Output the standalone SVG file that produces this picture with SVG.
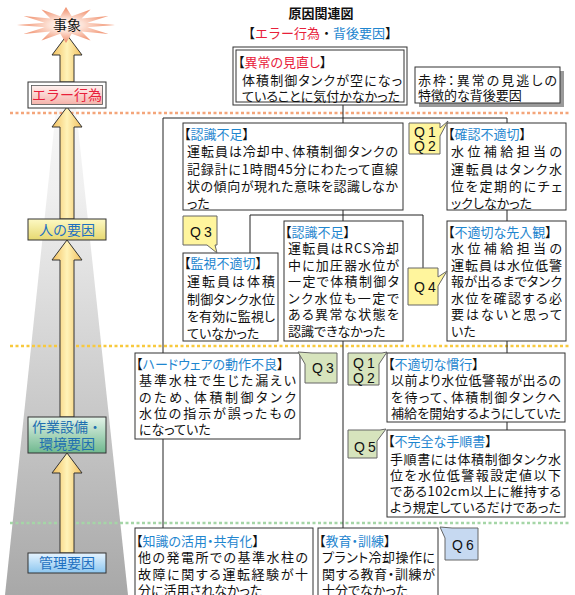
<svg xmlns="http://www.w3.org/2000/svg" width="575" height="595" viewBox="0 0 575 595">
<defs>
<style>
.t{font-family:"Noto Sans CJK JP","Noto Sans CJK SC",sans-serif;font-size:13px;fill:#111;font-feature-settings:"palt"}
.b{fill:#1f86cf}
.r{fill:#e8203a}
.box{fill:#fff;stroke:#333;stroke-width:1}
.con{stroke:#222;stroke-width:1;fill:none}
.qy{fill:#fff59d;stroke:#666;stroke-width:1}
.qg{fill:#d7e4bd;stroke:#666;stroke-width:1}
.qb{fill:#c6d9f1;stroke:#666;stroke-width:1}
.q{font-family:"Liberation Sans",Arial,sans-serif;font-size:14px;letter-spacing:3px;fill:#111}
.arrow{fill:url(#gArrow);stroke:#333;stroke-width:1}
.lab{font-family:"Noto Sans CJK JP",sans-serif;font-size:14px;text-anchor:middle}
</style>
<linearGradient id="gCone" x1="0" y1="0" x2="0" y2="1">
<stop offset="0" stop-color="#ffffff"/><stop offset="0.3" stop-color="#f0f0f0"/><stop offset="1" stop-color="#a8a8a8"/>
</linearGradient>
<linearGradient id="gArrow" x1="0" y1="0" x2="1" y2="0">
<stop offset="0" stop-color="#f2bf5e"/><stop offset="0.5" stop-color="#fff3b8"/><stop offset="1" stop-color="#f2bf5e"/>
</linearGradient>
<radialGradient id="gStar" cx="0.5" cy="0.5" r="0.5">
<stop offset="0" stop-color="#ffffff"/><stop offset="0.35" stop-color="#fde2d6"/><stop offset="1" stop-color="#ef8a66"/>
</radialGradient>
<linearGradient id="gPink" x1="0" y1="0" x2="0" y2="1">
<stop offset="0" stop-color="#fff2f0"/><stop offset="1" stop-color="#f5b3aa"/>
</linearGradient>
<linearGradient id="gYel" x1="0" y1="0" x2="0" y2="1">
<stop offset="0" stop-color="#fdf9c4"/><stop offset="1" stop-color="#e6d870"/>
</linearGradient>
<linearGradient id="gGrn" x1="0" y1="0" x2="0" y2="1">
<stop offset="0" stop-color="#e3f3e8"/><stop offset="1" stop-color="#6fb88e"/>
</linearGradient>
<linearGradient id="gBlu" x1="0" y1="0" x2="0" y2="1">
<stop offset="0" stop-color="#e6f4ff"/><stop offset="1" stop-color="#8cc6ef"/>
</linearGradient>
</defs>
<rect width="575" height="595" fill="#fff"/>

<g id="axis">
<polygon points="66,15 128,595 5,595" fill="url(#gCone)"/>
<line x1="10" y1="113" x2="570" y2="113" stroke="#f4a57a" stroke-width="2.5" stroke-dasharray="3 2.5"/>
<line x1="10" y1="346" x2="570" y2="346" stroke="#f8c93e" stroke-width="2.5" stroke-dasharray="3 2.5"/>
<line x1="10" y1="523" x2="570" y2="523" stroke="#a5d6a7" stroke-width="2.5" stroke-dasharray="3 2.5"/>
<polygon class="arrow" points="67,35 82,55 74,55 74,82 60,82 60,55 52,55"/>
<polygon class="arrow" points="67,107 82,127 74,127 74,219 60,219 60,127 52,127"/>
<polygon class="arrow" points="67,240 82,260 74,260 74,417 60,417 60,260 52,260"/>
<polygon class="arrow" points="67,453 82,473 74,473 74,553 60,553 60,473 52,473"/>
</g>

<g id="n-jishou">
<polygon fill="url(#gStar)" points="115,25 87.3,27.3 108.4,34 81.6,31.4 90.5,40.6 71.7,33.7 66,43 60.3,33.7 41.5,40.6 50.4,31.4 23.6,34 44.7,27.3 17,25 44.7,22.7 23.6,16 50.4,18.6 41.5,9.4 60.3,16.3 66,7 71.7,16.3 90.5,9.4 81.6,18.6 108.4,16 87.3,22.7"/>
<text class="lab" x="67" y="30" fill="#111" font-size="13">事象</text>
</g>

<g id="n-error">
<rect x="28" y="82" width="78" height="26" class="box"/>
<rect x="31.5" y="85.5" width="71" height="19" fill="url(#gPink)" stroke="#555" stroke-width="0.8"/>
<text class="lab" x="67" y="100" fill="#e8203a">エラー行為</text>
</g>

<g id="n-hito">
<rect x="28" y="219" width="78" height="21" fill="url(#gYel)" stroke="#333"/>
<text class="lab" x="67" y="235" fill="#1f70c0">人の要因</text>
</g>

<g id="n-sagyou">
<rect x="28" y="417" width="78" height="36" fill="url(#gGrn)" stroke="#333"/>
<text class="lab" x="67" y="432" fill="#1f70b0">作業設備・</text>
<text class="lab" x="67" y="449" fill="#1f70b0">環境要因</text>
</g>

<g id="n-kanri">
<rect x="28" y="553" width="78" height="20" fill="url(#gBlu)" stroke="#333"/>
<text class="lab" x="67" y="568" fill="#1f70c0">管理要因</text>
</g>

<g id="title">
<text x="321" y="18" text-anchor="middle" font-family="Noto Sans CJK JP, sans-serif" font-size="13" font-weight="bold" fill="#111">原因関連図</text>
<text class="t" x="320" y="38" text-anchor="middle" style="font-feature-settings:normal">【<tspan class="r">エラー行為</tspan>・<tspan class="b">背後要因</tspan>】</text>
</g>

<g id="connectors" class="con">
<path d="M343,105 V123 M163,118 H507 M163,118 V528 M507,118 V123 M343,210 V221 M250,215 H423 M250,215 V253 M423,215 V268 M507,210 V221 M343,341 V528 M507,341 V353 M507,422 V430"/>
</g>

<g id="n-minaoshi">
<rect x="233" y="47" width="174" height="58" class="box"/>
<rect x="236" y="50" width="168" height="52" class="box"/>
<text class="t" x="238" y="67">【<tspan class="r">異常の見直し</tspan>】</text>
<text class="t" x="242" y="85" textLength="160">体積制御タンクが空になっ</text>
<text class="t" x="242" y="100.5" textLength="158">ていることに気付かなかった</text>
</g>

<g id="legend">
<rect x="419" y="71" width="145" height="36" fill="#9a9a9a"/>
<rect x="415" y="67" width="145" height="36" class="box"/>
<text class="t" x="418" y="85" textLength="139">赤枠：異常の見逃しの</text>
<text class="t" x="418" y="99.5">特徴的な背後要因</text>
</g>

<g id="n-ninshiki1">
<rect x="183" y="123" width="220" height="87" class="box"/>
<text class="t" x="184" y="139">【<tspan class="b">認識不足</tspan>】</text>
<text class="t" x="187" y="156" textLength="211">運転員は冷却中、体積制御タンクの</text>
<text class="t" x="187" y="173.5" textLength="211">記録計に1時間45分にわたって直線</text>
<text class="t" x="187" y="191" textLength="211">状の傾向が現れた意味を認識しなか</text>
<text class="t" x="187" y="208">った</text>
</g>

<g id="n-kakunin">
<rect x="447" y="123" width="119" height="87" class="box"/>
<text class="t" x="448" y="139">【<tspan class="b">確認不適切</tspan>】</text>
<text class="t" x="451" y="156" textLength="111">水位補給担当の</text>
<text class="t" x="451" y="173.5" textLength="111">運転員はタンク水</text>
<text class="t" x="451" y="191" textLength="111">位を定期的にチェ</text>
<text class="t" x="451" y="208">ックしなかった</text>
</g>

<g id="q12-a">
<path class="qy" d="M409,123 H440 V128 L448,121 L440,136 V154 H409 Z"/>
<text class="q" x="414" y="136.5">Q1</text>
<text class="q" x="414" y="151">Q2</text>
</g>

<g id="n-kanshi">
<rect x="183" y="253" width="95" height="88" class="box"/>
<text class="t" x="184" y="268">【<tspan class="b">監視不適切</tspan>】</text>
<text class="t" x="187" y="286" textLength="88">運転員は体積</text>
<text class="t" x="187" y="303.5" textLength="88">制御タンク水位</text>
<text class="t" x="187" y="321" textLength="88">を有効に監視し</text>
<text class="t" x="187" y="338">ていなかった</text>
</g>

<g id="q3-a">
<path class="qy" d="M183,216 H217 V245 H215 L217,253 L207,245 H183 Z"/>
<text class="q" x="190" y="237">Q3</text>
</g>

<g id="n-ninshiki2">
<rect x="284" y="221" width="119" height="120" class="box"/>
<text class="t" x="285" y="236.5">【<tspan class="b">認識不足</tspan>】</text>
<text class="t" x="288" y="253" textLength="111">運転員はRCS冷却</text>
<text class="t" x="288" y="269.5" textLength="111">中に加圧器水位が</text>
<text class="t" x="288" y="286" textLength="111">一定で体積制御タ</text>
<text class="t" x="288" y="302.5" textLength="111">ンク水位も一定で</text>
<text class="t" x="288" y="319" textLength="111">ある異常な状態を</text>
<text class="t" x="288" y="335.5">認識できなかった</text>
</g>

<g id="n-senyu">
<rect x="447" y="221" width="119" height="120" class="box"/>
<text class="t" x="448" y="236.5">【<tspan class="b">不適切な先入観</tspan>】</text>
<text class="t" x="451" y="253" textLength="111">水位補給担当の</text>
<text class="t" x="451" y="269.5" textLength="111">運転員は水位低警</text>
<text class="t" x="451" y="286" textLength="111">報が出るまでタンク</text>
<text class="t" x="451" y="302.5" textLength="111">水位を確認する必</text>
<text class="t" x="451" y="319" textLength="111">要はないと思って</text>
<text class="t" x="451" y="335.5">いた</text>
</g>

<g id="q4-a">
<path class="qy" d="M408,268 H438 V277 L447,271 L438,286 V305 H408 Z"/>
<text class="q" x="414" y="292">Q4</text>
</g>

<g id="n-hardware">
<rect x="135" y="353" width="165" height="86" class="box"/>
<text class="t" x="136" y="368.5">【<tspan class="b">ハードウェアの動作不良</tspan>】</text>
<text class="t" x="139" y="384.5" textLength="157">基準水柱で生じた漏えい</text>
<text class="t" x="139" y="401.5" textLength="157">のため、体積制御タンク</text>
<text class="t" x="139" y="417.5" textLength="157">水位の指示が誤ったもの</text>
<text class="t" x="139" y="433.5">になっていた</text>
</g>

<g id="q3-b">
<path class="qg" d="M312,353 H337 V383 H305 V364 L298,352 Z"/>
<text class="q" x="312" y="373">Q3</text>
</g>

<g id="q12-b">
<path class="qg" d="M348,353 H382 L387,352 L379,364 V385 H348 Z"/>
<text class="q" x="353" y="368">Q1</text>
<text class="q" x="353" y="383">Q2</text>
</g>

<g id="n-kankou">
<rect x="387" y="353" width="178" height="69" class="box"/>
<text class="t" x="388" y="368.5">【<tspan class="b">不適切な慣行</tspan>】</text>
<text class="t" x="391" y="384.5" textLength="170">以前より水位低警報が出るの</text>
<text class="t" x="391" y="401.5" textLength="170">を待って、体積制御タンクへ</text>
<text class="t" x="391" y="417.5" textLength="170">補給を開始するようにしていた</text>
</g>

<g id="n-tejun">
<rect x="387" y="430" width="178" height="87" class="box"/>
<text class="t" x="388" y="446">【<tspan class="b">不完全な手順書</tspan>】</text>
<text class="t" x="390" y="463.5" textLength="171">手順書には体積制御タンク水</text>
<text class="t" x="390" y="480" textLength="171">位を水位低警報設定値以下</text>
<text class="t" x="390" y="496" textLength="171">である102cm以上に維持する</text>
<text class="t" x="390" y="512" textLength="171">よう規定しているだけであった</text>
</g>

<g id="q5">
<path class="qg" d="M348,430 H380 L386,429 L377,441 V458 H348 Z"/>
<text class="q" x="354" y="452">Q5</text>
</g>

<g id="n-chishiki">
<rect x="135" y="528" width="178" height="80" class="box"/>
<text class="t" x="136" y="545.5">【<tspan class="b">知識の活用・共有化</tspan>】</text>
<text class="t" x="138" y="562" textLength="170">他の発電所での基準水柱の</text>
<text class="t" x="138" y="578.5" textLength="170">故障に関する運転経験が十</text>
<text class="t" x="138" y="594.5">分に活用されなかった</text>
</g>

<g id="n-kyouiku">
<rect x="318" y="528" width="120" height="80" class="box"/>
<text class="t" x="319" y="545.5">【<tspan class="b">教育・訓練</tspan>】</text>
<text class="t" x="322" y="562" textLength="113">プラント冷却操作に</text>
<text class="t" x="322" y="578.5" textLength="113">関する教育・訓練が</text>
<text class="t" x="322" y="594.5">十分でなかった</text>
</g>

<g id="q6">
<path class="qb" d="M440,527 L452,528 H478 V560 H445 V538 Z"/>
<text class="q" x="452" y="550">Q6</text>
</g>
</svg>
